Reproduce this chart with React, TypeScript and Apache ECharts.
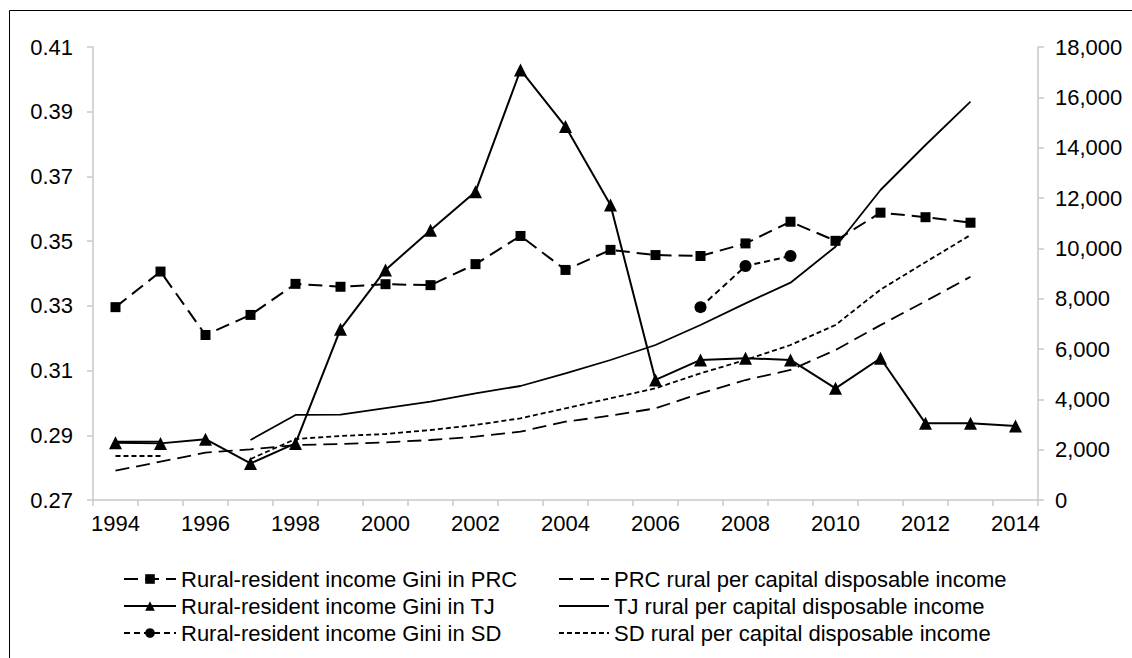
import React, { useEffect, useRef } from "react";
import * as echarts from "echarts";

const years = [
  "1994", "1995", "1996", "1997", "1998", "1999", "2000", "2001", "2002", "2003", "2004",
  "2005", "2006", "2007", "2008", "2009", "2010", "2011", "2012", "2013", "2014",
];

const prcGini = [
  0.3296, 0.3406, 0.321, 0.3272, 0.3368, 0.3359, 0.3367, 0.3364, 0.3429, 0.3516, 0.3411,
  0.3473, 0.3457, 0.3454, 0.3493, 0.356, 0.3501, 0.3588, 0.3574, 0.3557, null,
];
const tjGini = [
  0.2877, 0.2875, 0.2888, 0.2813, 0.2875, 0.3228, 0.3411, 0.3534, 0.3653, 0.4029, 0.3854,
  0.3612, 0.3071, 0.3133, 0.3138, 0.3133, 0.3045, 0.3138, 0.2937, 0.2937, 0.2929,
];
const sdGini = [
  null, null, null, null, null, null, null, null, null, null, null,
  null, null, 0.3296, 0.3423, 0.3454, null, null, null, null, null,
];

const prcIncome = [
  1164, 1522, 1880, 2014, 2185, 2225, 2292, 2384, 2516, 2715, 3112,
  3350, 3643, 4238, 4768, 5166, 5960, 6950, 7900, 8870, null,
];
const tjIncome = [
  2320, 2320, null, 2384, 3380, 3390, 3650, 3906, 4238, 4530, 5034,
  5563, 6159, 6954, 7815, 8635, 10065, 12318, 14106, 15827, null,
];
const sdIncome = [
  1748, 1748, null, 1630, 2424, 2543, 2622, 2781, 2980, 3246, 3643,
  4040, 4437, 5034, 5563, 6159, 6954, 8360, 9450, 10530, null,
];

const giniTicks = [0.27, 0.29, 0.31, 0.33, 0.35, 0.37, 0.39, 0.41];

const names = [
  "Rural-resident income Gini in PRC",
  "Rural-resident income Gini in TJ",
  "Rural-resident income Gini in SD",
  "PRC rural per capital disposable income",
  "TJ rural per capital disposable income",
  "SD rural per capital disposable income",
];

const FONT = "'Liberation Sans', Arial, sans-serif";
const AXIS_GREY = "#c8c8c8";

export default function App() {
  const ref = useRef<HTMLDivElement>(null);

  useEffect(() => {
    if (!ref.current) return;
    const chart = echarts.init(ref.current, null, { renderer: "svg" });
    const legendText = { fontSize: 22, color: "#000", fontFamily: FONT };
    chart.setOption({
      animation: false,
      backgroundColor: "#fff",
      textStyle: { fontFamily: FONT },
      graphic: [
        {
          type: "rect",
          shape: { x: 9.5, y: 10.5, width: 1300, height: 900 },
          style: { fill: "none", stroke: "#000", lineWidth: 1 },
          silent: true,
        },
      ],
      grid: { left: 93, right: 94, top: 47, bottom: 158 },
      legend: [
        {
          data: names.slice(0, 3),
          orient: "vertical",
          left: 118,
          top: 563,
          itemWidth: 52,
          itemHeight: 12,
          itemGap: 5,
          selectedMode: false,
          textStyle: legendText,
        },
        {
          data: names.slice(3, 6).map((n) => ({
            name: n,
            itemStyle: { color: "rgba(0,0,0,0)", borderWidth: 0, opacity: 0 },
          })),
          orient: "vertical",
          left: 553,
          top: 563,
          itemWidth: 50,
          itemHeight: 12,
          itemGap: 5,
          selectedMode: false,
          textStyle: legendText,
        },
      ],
      xAxis: {
        type: "category",
        data: years,
        boundaryGap: true,
        axisLine: { show: true, lineStyle: { color: AXIS_GREY, width: 1.5 } },
        axisTick: { show: true, interval: 0, length: 6, lineStyle: { color: AXIS_GREY, width: 1.5 } },
        axisLabel: { interval: 1, fontSize: 22, color: "#000", margin: 12, fontFamily: FONT },
        splitLine: { show: false },
      },
      yAxis: [
        {
          type: "value",
          position: "left",
          min: 0.27,
          max: 0.41,
          axisLine: { show: true, lineStyle: { color: AXIS_GREY, width: 1.5 } },
          axisTick: { show: true, length: 6, customValues: giniTicks, lineStyle: { color: AXIS_GREY, width: 1.5 } },
          axisLabel: {
            customValues: giniTicks,
            formatter: (v: number) => v.toFixed(2),
            fontSize: 22,
            color: "#000",
            margin: 20,
            fontFamily: FONT,
          },
          splitLine: { show: false },
        },
        {
          type: "value",
          position: "right",
          min: 0,
          max: 18000,
          interval: 2000,
          axisLine: { show: true, lineStyle: { color: AXIS_GREY, width: 1.5 } },
          axisTick: { show: true, length: 6, lineStyle: { color: AXIS_GREY, width: 1.5 } },
          axisLabel: {
            formatter: (v: number) => v.toLocaleString("en-US"),
            fontSize: 22,
            color: "#000",
            margin: 17,
            fontFamily: FONT,
          },
          splitLine: { show: false },
        },
      ],
      series: [
        {
          name: names[3],
          type: "line",
          yAxisIndex: 1,
          data: prcIncome,
          symbol: "none",
          lineStyle: { color: "#000", width: 1.8, type: [14, 7] },
          itemStyle: { color: "#000" },
        },
        {
          name: names[4],
          type: "line",
          yAxisIndex: 1,
          data: tjIncome,
          symbol: "none",
          lineStyle: { color: "#000", width: 1.8, type: "solid" },
          itemStyle: { color: "#000" },
        },
        {
          name: names[5],
          type: "line",
          yAxisIndex: 1,
          data: sdIncome,
          symbol: "none",
          lineStyle: { color: "#000", width: 1.8, type: [5, 3] },
          itemStyle: { color: "#000" },
        },
        {
          name: names[0],
          type: "line",
          yAxisIndex: 0,
          data: prcGini,
          symbol: "rect",
          symbolSize: 10,
          lineStyle: { color: "#000", width: 2, type: [14, 7] },
          itemStyle: { color: "#000" },
        },
        {
          name: names[1],
          type: "line",
          yAxisIndex: 0,
          data: tjGini,
          symbol: "triangle",
          symbolSize: 13,
          lineStyle: { color: "#000", width: 2, type: "solid" },
          itemStyle: { color: "#000" },
        },
        {
          name: names[2],
          type: "line",
          yAxisIndex: 0,
          data: sdGini,
          symbol: "circle",
          symbolSize: 12,
          lineStyle: { color: "#000", width: 2, type: [6, 4] },
          itemStyle: { color: "#000" },
        },
      ],
    });
    return () => chart.dispose();
  }, []);

  return (
    <div
      ref={ref}
      style={{ position: "absolute", left: 0, top: 0, width: 1132, height: 658 }}
    />
  );
}
